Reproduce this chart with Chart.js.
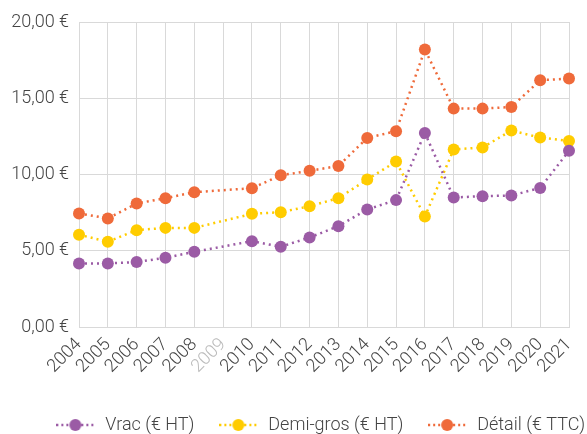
<!DOCTYPE html>
<html>
<head>
<meta charset="utf-8">
<script src="https://cdn.jsdelivr.net/npm/chart.js@4"></script>
<style>
  html, body { margin: 0; padding: 0; background: #fff; }
  #wrap { width: 587px; height: 434px; }
</style>
</head>
<body>
<div id="wrap"><canvas id="prixChart"></canvas></div>
<script>
// Prix (€) par année, 2009 sans donnée
const years = ['2004','2005','2006','2007','2008','2009','2010','2011','2012','2013','2014','2015','2016','2017','2018','2019','2020','2021'];
const vrac = [4.17, 4.17, 4.26, 4.54, 4.93, null, 5.63, 5.26, 5.87, 6.61, 7.71, 8.32, 12.72, 8.49, 8.58, 8.62, 9.12, 11.55];
const demiGros = [6.05, 5.59, 6.35, 6.50, 6.50, null, 7.42, 7.53, 7.92, 8.45, 9.67, 10.85, 7.25, 11.64, 11.77, 12.88, 12.42, 12.20];
const detail = [7.45, 7.12, 8.10, 8.45, 8.84, null, 9.10, 9.95, 10.24, 10.56, 12.40, 12.84, 18.19, 14.32, 14.32, 14.43, 16.18, 16.29];
const yTicks = [0, 5, 10, 15, 20];

const font = "'Roboto', 'Open Sans', sans-serif";
const gridColor = '#d9d9d9';

// legend marker: dotted line with a dot in the middle
function legendMarker(color) {
  const c = document.createElement('canvas');
  c.width = 40; c.height = 14;
  const g = c.getContext('2d');
  g.strokeStyle = color;
  g.lineWidth = 2.5;
  g.setLineDash([2, 3]);
  g.beginPath();
  g.moveTo(0, 7); g.lineTo(40, 7);
  g.stroke();
  g.beginPath();
  g.arc(19, 7, 6, 0, Math.PI * 2);
  g.fillStyle = color;
  g.fill();
  return c;
}

const series = [
  { label: 'Vrac (€ HT)', data: vrac, color: '#9b5ba5' },
  { label: 'Demi-gros (€ HT)', data: demiGros, color: '#ffcc00' },
  { label: 'Détail (€ TTC)', data: detail, color: '#ef6a3a' }
];

new Chart(document.getElementById('prixChart'), {
  type: 'line',
  data: {
    labels: years,
    datasets: series.map(s => ({
      label: s.label,
      data: s.data,
      borderColor: s.color,
      backgroundColor: s.color,
      pointBackgroundColor: s.color,
      pointBorderWidth: 0,
      pointRadius: 6,
      borderWidth: 2.5,
      borderDash: [2, 4],
      spanGaps: true,
      tension: 0,
      pointStyle: 'circle'
    }))
  },
  options: {
    responsive: true,
    maintainAspectRatio: false,
    animation: false,
    layout: { padding: { top: 22, right: -10, left: 0, bottom: -10 } },
    plugins: {
      tooltip: { enabled: false },
      legend: {
        position: 'bottom',
        align: 'end',
        labels: {
          usePointStyle: true,
          pointStyleWidth: 40,
          boxHeight: 14,
          padding: 12,
          color: '#444',
          font: { family: font, size: 18, weight: '300' },
          generateLabels: chart => chart.data.datasets.map((ds, i) => ({
            text: i < 2 ? ds.label + '\u2002\u2009' : ds.label,
            fontColor: '#444',
            pointStyle: legendMarker(ds.borderColor),
            datasetIndex: i,
            hidden: false,
            lineWidth: 0
          }))
        }
      }
    },
    scales: {
      x: {
        offset: false,
        grid: { color: gridColor, lineWidth: 1, drawTicks: false },
        border: { color: gridColor },
        ticks: {
          autoSkip: false,
          maxRotation: 45,
          minRotation: 45,
          padding: 7,
          color: ctx => years[ctx.index] === '2009' ? '#bbbbbb' : '#444',
          font: { family: font, size: 18, weight: '300' }
        },
        afterFit: s => { s.height = 77; s.paddingRight = 18; }
      },
      y: {
        min: 0,
        max: 20,
        afterBuildTicks: s => { s.ticks = yTicks.map(v => ({ value: v })); },
        grid: { color: gridColor, lineWidth: 1, drawTicks: false },
        border: { color: gridColor },
        ticks: {
          padding: 10,
          color: '#444',
          font: { family: font, size: 18, weight: '300' },
          callback: v => v.toFixed(2).replace('.', ',') + '\u00a0€'
        },
        afterFit: s => { s.width = 79; }
      }
    }
  }
});
</script>
</body>
</html>
